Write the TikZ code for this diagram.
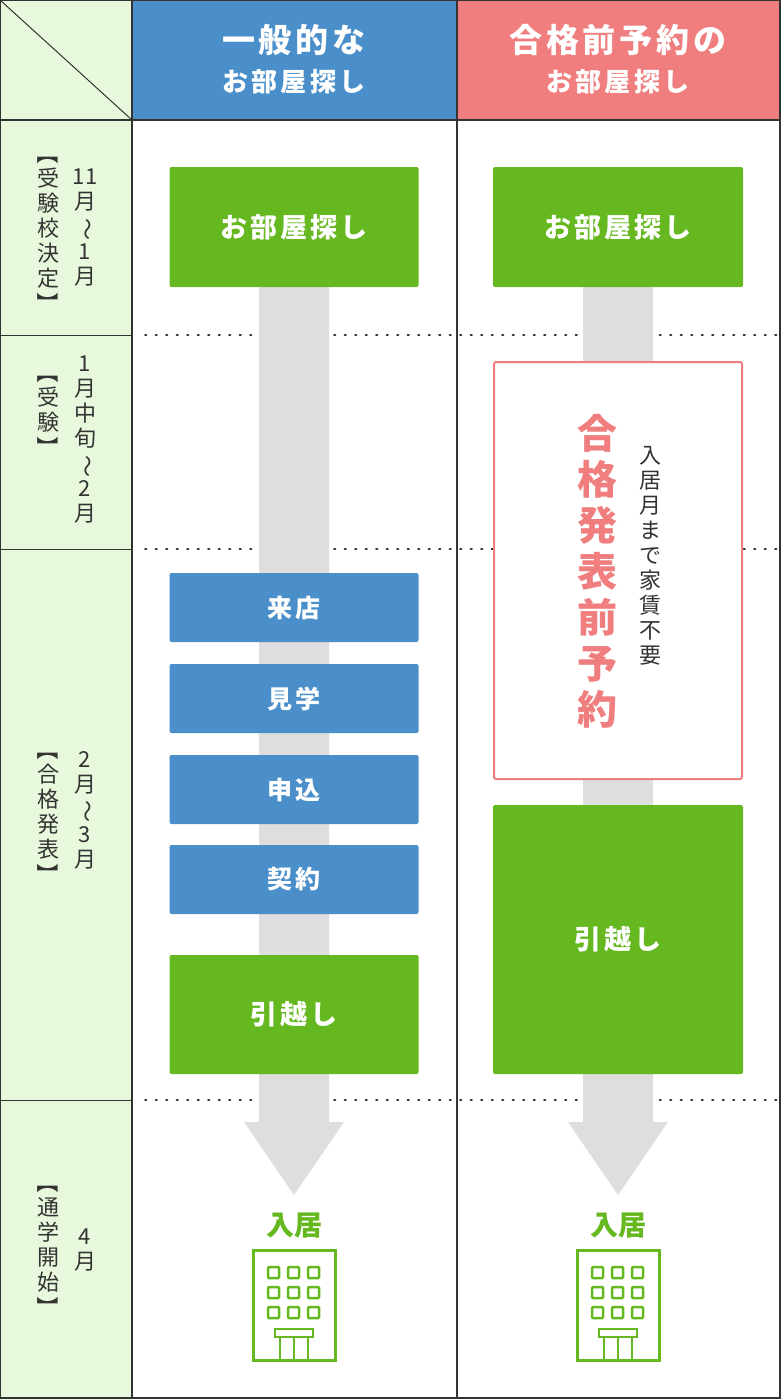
\documentclass[tikz,border=0pt]{standalone}
\usepackage{fontspec}
\setmainfont{Noto Sans CJK JP}
\newfontfamily\spaced[LetterSpace=12]{Noto Sans CJK JP}
\usepackage{graphicx}
\definecolor{sidebg}{HTML}{E8F8DC}
\definecolor{headblue}{HTML}{4A8FC9}
\definecolor{headpink}{HTML}{F07E7E}
\definecolor{stepgreen}{HTML}{66B821}
\definecolor{stepblue}{HTML}{4A8FC9}
\definecolor{bargray}{HTML}{DEDEDE}
\definecolor{textdark}{HTML}{333333}
\newcommand\vr[1]{\rotatebox[origin=c]{-90}{#1}}
\tikzset{
  greenbox/.style={fill=stepgreen,rounded corners=2pt,text=white,font=\spaced\fontsize{27}{27}\selectfont\bfseries},
  bluebox/.style={fill=stepblue,rounded corners=2pt,text=white,font=\spaced\fontsize{25}{25}\selectfont\bfseries},
  vlabel/.style={text=textdark,align=center,font=\fontsize{22}{25}\selectfont,inner sep=0pt},
  rowline/.style={dash pattern=on 1.5pt off 9pt,line cap=round,line width=1.8pt,textdark},
  grid/.style={line width=1.5pt,textdark},
}
\begin{document}
\begin{tikzpicture}[x=1pt,y=-1pt]
\useasboundingbox (0,0) rectangle (780,1400);
% backgrounds
\fill[sidebg] (0,0) rectangle (132,1400);
\fill[headblue] (132,0) rectangle (457,120);
\fill[headpink] (457,0) rectangle (780,120);
% dotted row lines
\foreach \y in {335,549,1100} \draw[rowline] (145,\y) -- (780,\y);
\foreach \y in {335,549,1100} \draw[grid,line width=1pt] (0,\y) -- (132,\y);
% grid
\draw[grid] (0,0) rectangle (780,1398);
\draw[grid] (0,120) -- (780,120);
\draw[grid] (132,0) -- (132,1398);
\draw[grid] (457,0) -- (457,1398);
\draw[line width=1pt,textdark] (0,0) -- (132,120);
% header
\node[text=white,font=\spaced\fontsize{33}{33}\selectfont\bfseries] (h1) at (294,40) {一般的な};
\node[text=white,font=\spaced\fontsize{26}{26}\selectfont\bfseries] (h1b) at (294,82) {お部屋探し};
\node[text=white,font=\spaced\fontsize{33}{33}\selectfont\bfseries] (h2) at (618,40) {合格前予約の};
\node[text=white,font=\spaced\fontsize{26}{26}\selectfont\bfseries] (h2b) at (618,82) {お部屋探し};
% side labels
\node[vlabel] (r1a) at (48,228) {\vr{【}\\受\\験\\校\\決\\定\\\vr{】}};
\node[vlabel] (r1b) at (85,228) {11\\月\\\vr{～}\\1\\月};
\node[vlabel] (r2a) at (48,410) {\vr{【}\\受\\験\\\vr{】}};
\node[vlabel] (r2b) at (85,440) {1\\月\\中\\旬\\\vr{～}\\2\\月};
\node[vlabel] (r3a) at (48,812) {\vr{【}\\合\\格\\発\\表\\\vr{】}};
\node[vlabel] (r3b) at (85,810) {2\\月\\\vr{～}\\3\\月};
\node[vlabel] (r4a) at (48,1245) {\vr{【}\\通\\学\\開\\始\\\vr{】}};
\node[vlabel] (r4b) at (85,1250) {4\\月};
% arrows
\foreach \cx in {294,618}
  \fill[bargray] (\cx-35,285) -- (\cx+35,285) -- (\cx+35,1122) -- (\cx+50,1122)
    -- (\cx,1195) -- (\cx-50,1122) -- (\cx-35,1122) -- cycle;
% general column
\node[greenbox,minimum width=249,minimum height=120] (a1) at (294,227) {お部屋探し};
\node[bluebox,minimum width=249,minimum height=69] (a2) at (294,607.5) {来店};
\node[bluebox,minimum width=249,minimum height=69] (a3) at (294,698.5) {見学};
\node[bluebox,minimum width=249,minimum height=69] (a4) at (294,789.5) {申込};
\node[bluebox,minimum width=249,minimum height=69] (a5) at (294,879.5) {契約};
\node[greenbox,minimum width=249,minimum height=119] (a6) at (294,1014.5) {引越し};
% early column
\node[greenbox,minimum width=250,minimum height=120] (b1) at (618,227) {お部屋探し};
\node[draw=headpink,line width=2pt,fill=white,rounded corners=2pt,minimum width=248,minimum height=417] (b2) at (618,570.5) {};
\node[text=headpink,align=center,inner sep=0pt,font=\fontsize{40}{46}\selectfont\bfseries] (b2t) at (597,571) {合\\格\\発\\表\\前\\予\\約};
\node[text=textdark,align=center,inner sep=0pt,font=\fontsize{22}{25}\selectfont] (b2s) at (650,556) {入\\居\\月\\ま\\で\\家\\賃\\不\\要};
\node[greenbox,minimum width=250,minimum height=269] (b3) at (618,939.5) {引越し};
% move in
\foreach \cx/\nm in {294/a,618/b} {
  \node[text=stepgreen,font=\fontsize{28}{28}\selectfont\bfseries] (\nm7) at (\cx,1226) {入居};
  \begin{scope}[stepgreen,line width=3pt,shift={(\cx-41,1250)}]
    \draw (0,0) rectangle (82,110);
    \foreach \i in {0,1,2} \foreach \j in {0,1,2}
      \draw[line width=2.5pt,rounded corners=1pt] (15+\i*20,17+\j*20) rectangle ++(11,11);
    \draw[line width=2.5pt] (22,79) rectangle (60,87);
    \draw[line width=2.5pt] (27,87) -- (27,110) (41,87) -- (41,110) (55,87) -- (55,110);
  \end{scope}
}
\end{tikzpicture}
\end{document}
